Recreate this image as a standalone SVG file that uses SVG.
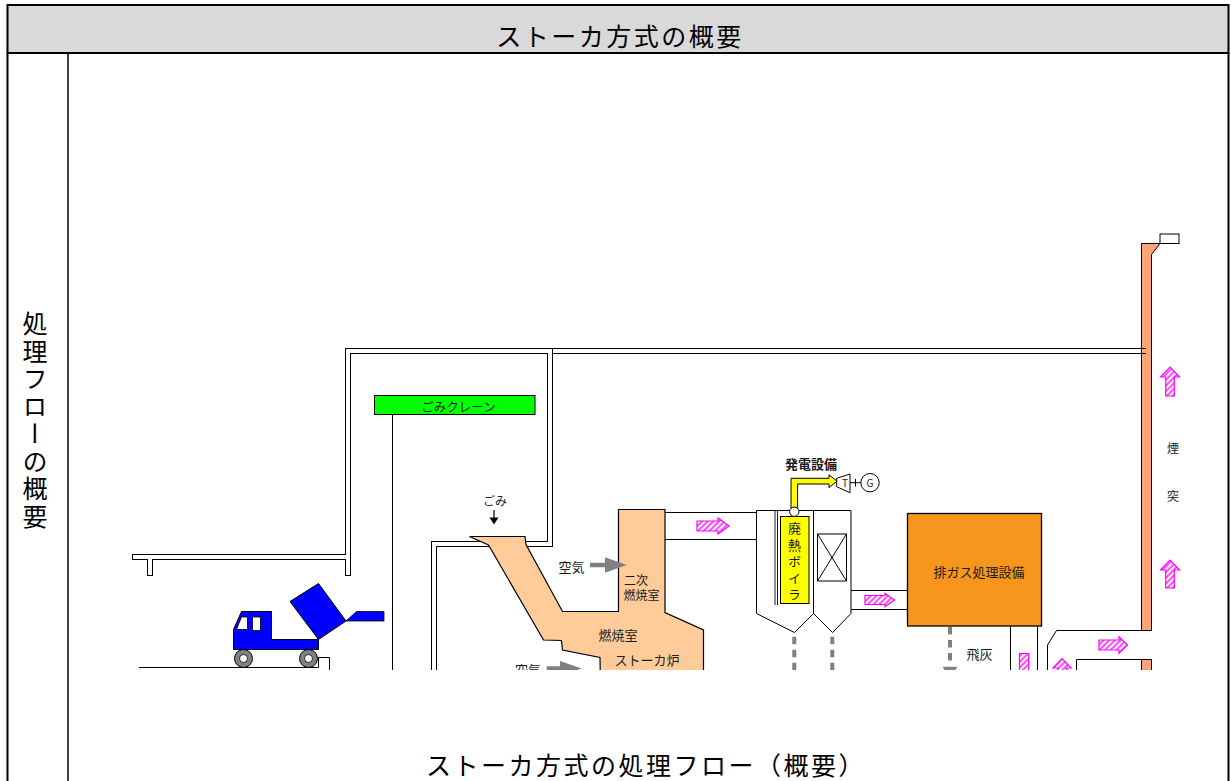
<svg xmlns="http://www.w3.org/2000/svg" width="1231" height="781" viewBox="0 0 1231 781">
  <style>
    .jp { font-family: "Noto Sans CJK JP", "Noto Sans", sans-serif; fill: #1a1a1a; }
    .big { font-size: 25px; letter-spacing: 2.5px; fill: #000; }
    .lbl { font-size: 13px; }
    .ln { fill: none; stroke: #000; stroke-width: 1; }
    .dash { fill: none; stroke: #808080; stroke-width: 4; stroke-dasharray: 7.5 5.5; }
    .hatch { fill: url(#hatch); stroke: #ff00ff; stroke-width: 1.2; stroke-linejoin: miter; }
    .wallB { fill: none; stroke: #000; stroke-width: 6; stroke-linecap: square; stroke-linejoin: miter; }
    .wallW { fill: none; stroke: #fff; stroke-width: 4; stroke-linecap: square; stroke-linejoin: miter; }
  </style>
  <defs>
    <pattern id="hatch" width="4" height="4" patternUnits="userSpaceOnUse" patternTransform="rotate(45)">
      <rect width="4" height="4" fill="#fff"/>
      <line x1="1" y1="0" x2="1" y2="4" stroke="#ff00ff" stroke-width="1.4"/>
    </pattern>
    <clipPath id="plate">
      <rect x="69" y="54" width="1159" height="616"/>
    </clipPath>
  </defs>

  <!-- page frame -->
  <g id="frame">
    <rect x="0" y="0" width="1231" height="781" fill="#fff"/>
    <rect x="7.5" y="5" width="1221" height="48" fill="#d9d9d9" stroke="#000" stroke-width="2"/>
    <line x1="7.5" y1="53" x2="7.5" y2="781" stroke="#000" stroke-width="2"/>
    <line x1="1228.5" y1="53" x2="1228.5" y2="781" stroke="#000" stroke-width="2"/>
    <line x1="68" y1="53" x2="68" y2="781" stroke="#000" stroke-width="1.5"/>
  </g>
  <g id="header">
    <text class="jp big" x="620" y="46" text-anchor="middle">ストーカ方式の概要</text>
  </g>
  <g id="sidebar">
    <text class="jp big" x="35" y="421" text-anchor="middle" style="writing-mode: vertical-rl" letter-spacing="2">処理フローの概要</text>
  </g>
  <g id="caption">
    <text class="jp big" x="646" y="775" text-anchor="middle">ストーカ方式の処理フロー（概要）</text>
  </g>

  <g id="diagram" clip-path="url(#plate)">
    <!-- building shell: platform, pit walls and roof -->
    <g id="building">
      <path class="wallB" d="M135,557 H348 M150,557 V573 M348,573 V351 H550 V544 H434 V690"/>
      <path class="wallW" d="M135,557 H348 M150,557 V573 M348,573 V351 H550 V544 H434 V690"/>
      <!-- ground and pit edge -->
      <path class="ln" d="M139,667.5 H318.5 V657.5 H329.5 V680"/>
    </g>

    <!-- chimney -->
    <g id="chimney">
      <path d="M1141.5,243.5 H1160 L1151.5,254.5 V630.5 H1141.5 Z" fill="#ffa477" stroke="#000" stroke-width="1"/>
      <path d="M1141.5,690 V659.5 H1151.5 V690" fill="#ffa477" stroke="#000" stroke-width="1"/>
      <rect x="1160" y="234" width="19" height="9.5" fill="#fff" stroke="#000" stroke-width="1"/>
      <text class="jp" font-size="12" x="1173" y="453" text-anchor="middle">煙</text>
      <text class="jp" font-size="12" x="1173" y="500.5" text-anchor="middle">突</text>
    </g>

    <!-- crane -->
    <g id="crane">
      <line class="ln" x1="392.5" y1="414.5" x2="392.5" y2="680"/>
      <rect x="374.5" y="395.5" width="160.5" height="19" fill="#00ff00" stroke="#000" stroke-width="1"/>
      <text class="jp" font-size="12.5" x="458.5" y="412" text-anchor="middle">ごみクレーン</text>
    </g>

    <!-- refuse truck -->
    <g id="truck">
      <path d="M241.5,611.5 H271.5 V639.5 H318.5 V649.5 H233.5 V629.5 Z" fill="#0000ff" stroke="#000" stroke-width="1"/>
      <path d="M236.5,629.5 L241.5,617 H247.5 V629.5 Z" fill="#fff" stroke="#000" stroke-width="0.8"/>
      <rect x="252.5" y="617" width="8" height="13.5" fill="#fff" stroke="#000" stroke-width="0.8"/>
      <path d="M290,601.5 L318.5,583.5 L346,621 L318.5,639.5 Z" fill="#0000ff" stroke="#000" stroke-width="1"/>
      <path d="M346,621 L356.5,611.5 H384 V621 Z" fill="#0000ff" stroke="#000" stroke-width="0.8"/>
      <circle cx="243.5" cy="658.5" r="9" fill="#808080" stroke="#000" stroke-width="1"/>
      <circle cx="243.5" cy="658.5" r="4" fill="#fff" stroke="#000" stroke-width="0.8"/>
      <circle cx="308.5" cy="658.5" r="9" fill="#808080" stroke="#000" stroke-width="1"/>
      <circle cx="308.5" cy="658.5" r="4" fill="#fff" stroke="#000" stroke-width="0.8"/>
    </g>

    <!-- refuse feed label -->
    <g id="feed">
      <text class="jp" font-size="12" x="495" y="505.5" text-anchor="middle">ごみ</text>
      <line x1="494" y1="510" x2="494" y2="519" stroke="#000" stroke-width="1.2"/>
      <path d="M489.5,517.5 H498.5 L494,524.5 Z" fill="#000"/>
    </g>

    <!-- stoker furnace -->
    <g id="furnace">
      <path d="M469.5,536.5 H525 L526,544.5 L562.5,611.5 H618.5 V509.5 H665 V612.5 L703.5,630 V690 H600.5 L600,657.5 L562.5,650 L561.5,640.5 L543.5,640 L488.5,545 Z" fill="#ffcc99" stroke="#000" stroke-width="1.2"/>
      <text class="jp" font-size="12"><tspan x="624" y="585">二次</tspan><tspan x="623.5" y="600">燃焼室</tspan></text>
      <text class="jp lbl" x="598.5" y="640">燃焼室</text>
      <text class="jp lbl" x="614.5" y="665">ストーカ炉</text>
    </g>

    <!-- combustion air inlets -->
    <g id="air">
      <text class="jp lbl" x="558.5" y="571.5">空気</text>
      <path d="M590,562.7 H605 V557.3 L626.7,565 L605,572.7 V567.3 H590 Z" fill="#808080"/>
      <text class="jp lbl" x="515" y="675">空気</text>
      <path d="M546.7,666.2 H560 V661 L581.7,668.5 L560,676 V670.8 H546.7 Z" fill="#808080"/>
    </g>

    <!-- waste heat boiler -->
    <g id="boiler">
      <path class="ln" d="M756.5,510.5 H851 V613.5 L832.5,632.5 L813.5,613.5 L794.5,632.5 L756.5,613.5 Z"/>
      <line class="ln" x1="813.5" y1="510.5" x2="813.5" y2="613.5"/>
      <line x1="775" y1="510.5" x2="775" y2="605" stroke="#000" stroke-width="0.9"/>
      <line x1="777.5" y1="510.5" x2="777.5" y2="605" stroke="#000" stroke-width="0.9"/>
      <rect x="780.5" y="516.5" width="28.5" height="87" fill="#ffff00" stroke="#000" stroke-width="1"/>
      <text class="jp lbl" x="794.5" y="522" style="writing-mode: vertical-rl" letter-spacing="3.5">廃熱ボイラ</text>
      <rect x="817.5" y="534" width="29" height="47" fill="#fff" stroke="#000" stroke-width="1"/>
      <path class="ln" d="M817.5,534 L846.5,581 M846.5,534 L817.5,581"/>
    </g>

    <!-- power generation -->
    <g id="power">
      <text class="jp" font-size="13" font-weight="bold" x="785" y="469">発電設備</text>
      <path d="M791,508 V478.3 H829 V474.8 L837,481.2 L829,487.6 V484 H797.6 V508 Z" fill="#ffff00" stroke="#000" stroke-width="1"/>
      <circle cx="794.3" cy="511.7" r="4.7" fill="#fff" stroke="#000" stroke-width="1"/>
      <path d="M836.7,478.3 L850,474 V492.7 L836.7,486.7 Z" fill="#fff" stroke="#000" stroke-width="1"/>
      <text class="jp" font-size="10" x="845" y="487" text-anchor="middle">T</text>
      <path class="ln" d="M850,482.7 H861 M855.5,479 V486.5"/>
      <circle cx="870" cy="482.7" r="9.2" fill="#fff" stroke="#000" stroke-width="1"/>
      <text class="jp" font-size="10" x="870" y="486.5" text-anchor="middle">G</text>
    </g>

    <!-- flue gas treatment -->
    <g id="gas-treatment">
      <rect x="907.5" y="513.5" width="134" height="112.5" fill="#f8951d" stroke="#000" stroke-width="1.3"/>
      <text class="jp lbl" x="933.5" y="577">排ガス処理設備</text>
      <text class="jp lbl" x="966.5" y="659">飛灰</text>
    </g>

    <!-- ducts, discharge lines and flow arrows -->
    <g id="connectors">
      <!-- roof duct to chimney -->
      <path class="ln" d="M552,348.5 H1146 M552,353.5 H1146"/>
      <!-- furnace to boiler -->
      <path class="ln" d="M665,512.5 H756.5 M665,539.5 H756.5"/>
      <!-- boiler to gas treatment -->
      <path class="ln" d="M851,590.5 H907.5 M851,609.5 H907.5"/>
      <!-- gas treatment outlet -->
      <path class="ln" d="M1010.5,626 V690 M1037.5,626 V690"/>
      <!-- flue to chimney -->
      <path class="ln" d="M1047.5,690 V645 L1056.5,630.5 H1151.5 M1076.5,690 V659.5 H1151.5"/>

      <!-- ash discharge -->
      <line class="dash" x1="794.3" y1="636.7" x2="794.3" y2="690"/>
      <line class="dash" x1="832.3" y1="636.7" x2="832.3" y2="690"/>
      <line class="dash" x1="950" y1="627" x2="950" y2="662" stroke-dasharray="6 5.5"/>
      <path d="M942.5,666.7 H957.5 L950,678 Z" fill="#808080"/>

      <!-- gas flow -->
      <path class="hatch" d="M697,521 H718 V518 L729,526 L718,534 V531 H697 Z"/>
      <path class="hatch" d="M865,595.5 H885 V593.5 L894.5,600 L885,606.5 V604.5 H865 Z"/>
      <path class="hatch" d="M1099,640 H1119 V636.7 L1127.5,645 L1119,653.3 V650 H1099 Z"/>
      <path class="hatch" d="M1165.7,396 V377 H1160.5 L1170,367 L1179.5,377 H1174.3 V396 Z"/>
      <path class="hatch" d="M1165.7,588 V570 H1160.5 L1170,560 L1179.5,570 H1174.3 V588 Z"/>
      <path class="hatch" d="M1019.5,653.5 H1028.7 V678 H1032 L1024,688 L1016,678 H1019.5 Z"/>
      <path class="hatch" d="M1057.5,690 V668 H1053 L1062,658.5 L1071,668 H1066.5 V690 Z"/>
    </g>
  </g>
</svg>
